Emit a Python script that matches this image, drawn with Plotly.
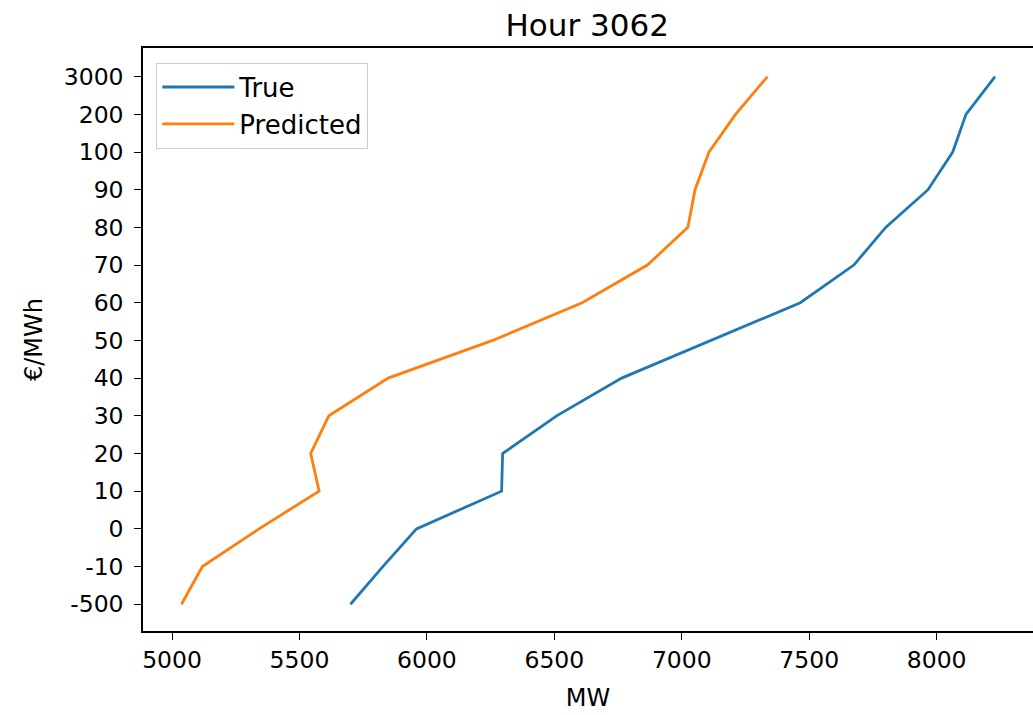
import plotly.graph_objects as go

price_levels = ["-500", "-10", "0", "10", "20", "30", "40", "50", "60", "70", "80", "90", "100", "200", "3000"]
true_mw = [5700, 5827, 5959, 6293, 6297, 6509, 6764, 7115, 7465, 7675, 7800, 7966, 8063, 8115, 8229]
pred_mw = [5037, 5119, 5341, 5577, 5544, 5615, 5848, 6258, 6609, 6865, 7024, 7052, 7107, 7211, 7336]
x_ticks = [5000, 5500, 6000, 6500, 7000, 7500, 8000]

FONT = "DejaVu Sans"

fig = go.Figure()
fig.add_trace(go.Scatter(x=true_mw, y=price_levels, mode="lines", name="True",
                         line=dict(color="#1f77b4", width=2.8)))
fig.add_trace(go.Scatter(x=pred_mw, y=price_levels, mode="lines", name="Predicted",
                         line=dict(color="#ff7f0e", width=2.8)))

fig.update_layout(
    width=1033, height=715,
    margin=dict(l=143, r=0, t=48, b=84),
    paper_bgcolor="white", plot_bgcolor="white",
    font=dict(family=FONT, color="#000000", size=23),
    title=dict(text="Hour 3062", x=0.5685, xanchor="center", y=0.965, yanchor="middle",
               font=dict(size=31, family=FONT, color="#000000")),
    showlegend=True,
    legend=dict(x=0.015, y=0.975, xanchor="left", yanchor="top",
                bgcolor="white", bordercolor="#cccccc", borderwidth=1,
                font=dict(size=26, family=FONT, color="#000000"),
                tracegroupgap=0, itemwidth=72),
)

fig.update_xaxes(
    range=[4886, 8378], tickmode="array", tickvals=x_ticks,
    ticktext=[str(v) for v in x_ticks],
    showgrid=False, zeroline=False,
    showline=True, linecolor="black", linewidth=1.5, mirror=True,
    ticks="outside", ticklen=7, tickwidth=1.3, tickcolor="black",
    tickfont=dict(size=23.5, family=FONT, color="#000000"),
    title=dict(text="MW", font=dict(size=24, family=FONT, color="#000000"), standoff=16),
)
fig.update_yaxes(
    type="category", categoryorder="array", categoryarray=price_levels,
    range=[-0.71, 14.76],
    showgrid=False, zeroline=False,
    showline=True, linecolor="black", linewidth=1.5, mirror=False,
    ticks="outside", ticklen=7, tickwidth=1.3, tickcolor="black",
    ticklabelstandoff=6,
    tickfont=dict(size=23.5, family=FONT, color="#000000"),
    title=dict(text="€/MWh", font=dict(size=24, family=FONT, color="#000000"), standoff=14),
)

fig.write_html("out.html")
